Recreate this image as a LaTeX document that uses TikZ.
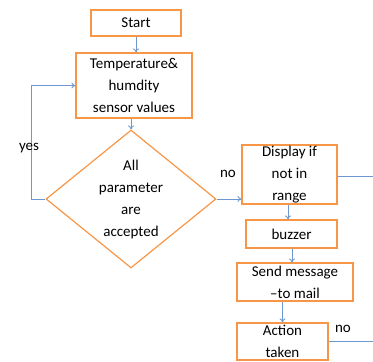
\documentclass[tikz,border=0pt]{standalone}
\usepackage{fontspec}
\setmainfont{Carlito}
\usepackage{tikz}
\usetikzlibrary{arrows.meta,shapes.geometric}
\definecolor{boxorange}{RGB}{247,150,70}
\definecolor{flowblue}{RGB}{112,152,208}

\begin{document}
\begin{tikzpicture}[x=1pt,y=-1pt,
	stepbox/.style={draw=boxorange,line width=1.2pt,inner sep=0pt,align=center,
		font=\fontsize{15}{22}\selectfont},
	flow/.style={draw=flowblue,line width=0.9pt,-{To[length=4pt,width=6pt]}},
	plain/.style={draw=flowblue,line width=0.9pt},
	lbl/.style={font=\fontsize{15}{22}\selectfont,inner sep=0pt}]

	\useasboundingbox (0,0) rectangle (373,362);

	\node[stepbox,minimum width=90pt,minimum height=26pt] (start) at (136,23) {Start};
	\node[stepbox,minimum width=116pt,minimum height=65pt] (temp) at (134,85.5) {Temperature\&\\humdity\\sensor values};
	\node[stepbox,shape=diamond,aspect=1.23,minimum width=170pt,minimum height=138pt] (check) at (131,199) {All\\parameter\\are\\accepted};
	\node[stepbox,minimum width=95pt,minimum height=59pt] (disp) at (289.5,174.5) {Display if\\not in\\range};
	\node[stepbox,minimum width=91pt,minimum height=28pt] (buzz) at (291.5,234) {buzzer};
	\node[stepbox,minimum width=116pt,minimum height=38pt] (send) at (295,282) {Send message\\--to mail};
	\node[stepbox,minimum width=91pt,minimum height=37pt] (act) at (282.5,341.5) {Action\\taken};

	\coordinate (yesbend) at (31,199);
	\coordinate (dispend) at (373,176);
	\coordinate (actend) at (373,341);

	\draw[flow] (start) -- (start |- temp.north);
	\draw[flow] (check.north |- temp.south) -- (check.north);
	\draw[flow] (check.west) -- (yesbend) |- (temp.west);
	\draw[flow] (check.east) -- (check.east -| disp.west);
	\draw[plain] (disp.east |- dispend) -- (dispend);
	\draw[flow] (disp.south -| 288,0) -- (buzz.north -| 288,0);
	\draw[flow] (buzz.south -| 292,0) -- (send.north -| 292,0);
	\draw[flow] (act |- send.south) -- (act.north);
	\draw[plain] (act.east |- actend) -- (actend);

	\node[lbl] (yes) at (29,148) {yes};
	\node[lbl] (nodisp) at (228,174) {no};
	\node[lbl] (noact) at (343,329) {no};

\end{tikzpicture}
\end{document}
